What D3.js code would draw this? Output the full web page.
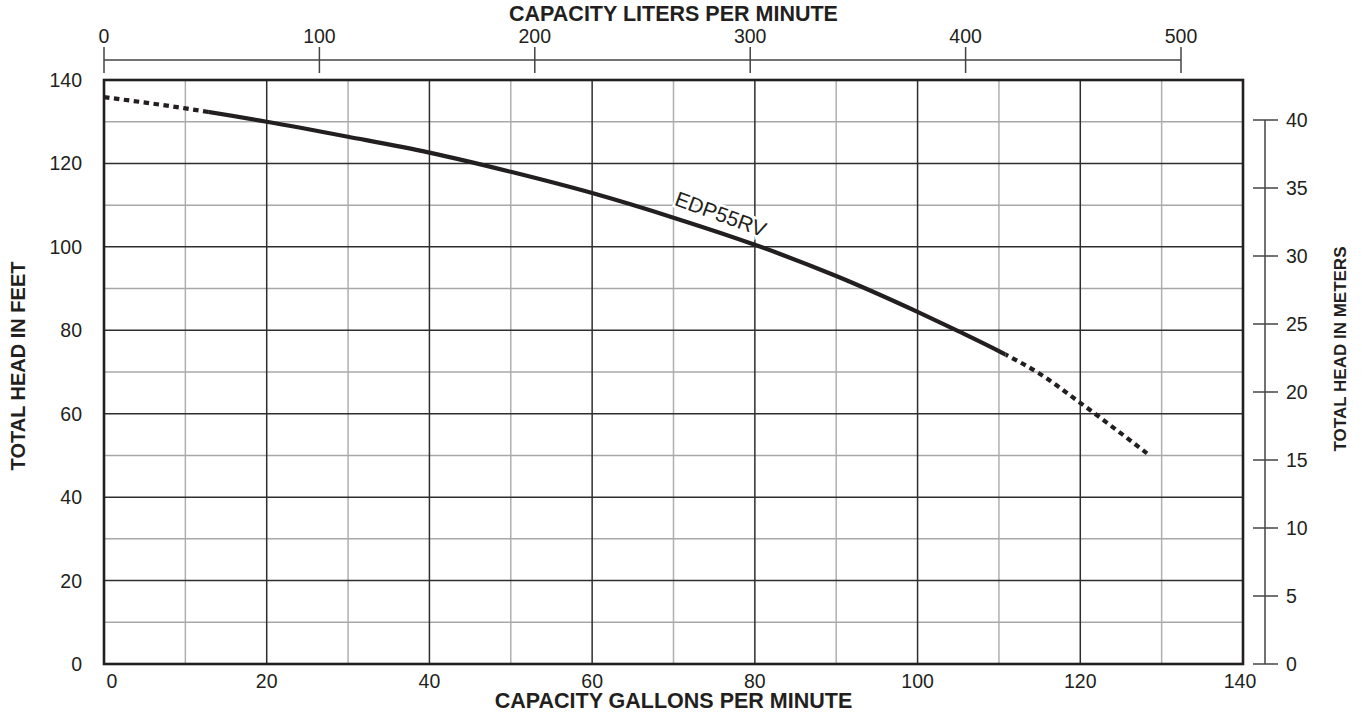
<!DOCTYPE html>
<html><head><meta charset="utf-8">
<script src="https://cdn.jsdelivr.net/npm/d3@7"></script>
<style>
html,body{margin:0;padding:0;background:#fff;}
svg{display:block;font-family:"Liberation Sans",Arial,Helvetica,sans-serif;}
</style></head>
<body>
<svg id="c" width="1362" height="715"></svg>
<script>
// ---- data ----
const gallonTicks = [0, 20, 40, 60, 80, 100, 120, 140];
const gallonMinor = [10, 30, 50, 70, 90, 110, 130];
const feetTicks = [0, 20, 40, 60, 80, 100, 120, 140];
const feetMinor = [10, 30, 50, 70, 90, 110, 130];
const literTicks = [0, 100, 200, 300, 400, 500];
const meterTicks = [0, 5, 10, 15, 20, 25, 30, 35, 40];
const curveGallons = [0, 10, 20, 30, 40, 50, 60, 70, 80, 90, 100, 105, 110, 115, 120, 128.2];
const curveHead    = [135.9, 133.2, 130.0, 126.4, 122.6, 118.0, 112.9, 107.0, 100.5, 93.0, 84.4, 79.8, 75.0, 69.6, 62.6, 50.5];
const solidRange = [12.8, 110.8];
const seriesName = "EDP55RV";
const labelAt = [75.5, 106.2];
const titles = {
  bottom: "CAPACITY GALLONS PER MINUTE",
  top: "CAPACITY LITERS PER MINUTE",
  left: "TOTAL HEAD IN FEET",
  right: "TOTAL HEAD IN METERS"
};

// ---- layout ----
const L = 104, R = 1243, T = 80, B = 664;
const svg = d3.select("#c");
const x = d3.scaleLinear().domain([0, 140]).range([L, R]);
const y = d3.scaleLinear().domain([0, 140]).range([B, T]);
const xl = d3.scaleLinear().domain([0, 500]).range([L, 1181]);
const ym = d3.scaleLinear().domain([0, 40]).range([B, 120]);
const textCol = "#231f20";

// minor grid
const g = svg.append("g");
g.selectAll(".vx").data(gallonMinor).join("line")
  .attr("x1", d => x(d)).attr("x2", d => x(d)).attr("y1", T).attr("y2", B)
  .attr("stroke", "#b0b0b0").attr("stroke-width", 1.5);
g.selectAll(".hy").data(feetMinor).join("line")
  .attr("y1", d => y(d)).attr("y2", d => y(d)).attr("x1", L).attr("x2", R)
  .attr("stroke", "#a8a8a8").attr("stroke-width", 1.5);
// major grid
g.selectAll(".VX").data(gallonTicks.slice(1, -1)).join("line")
  .attr("x1", d => x(d)).attr("x2", d => x(d)).attr("y1", T).attr("y2", B)
  .attr("stroke", "#2e2e2e").attr("stroke-width", 1.5);
g.selectAll(".HY").data(feetTicks.slice(1, -1)).join("line")
  .attr("y1", d => y(d)).attr("y2", d => y(d)).attr("x1", L).attr("x2", R)
  .attr("stroke", "#2e2e2e").attr("stroke-width", 1.5);

// frame
svg.append("rect").attr("x", L).attr("y", T).attr("width", R - L).attr("height", B - T)
  .attr("fill", "none").attr("stroke", "#231f20").attr("stroke-width", 2.6);

// bottom axis labels
svg.append("g").selectAll("text").data(gallonTicks).join("text")
  .attr("x", (d, i) => x(d) + (i === 0 ? 8 : (i === gallonTicks.length - 1 ? -3 : 0)))
  .attr("y", 688).attr("text-anchor", "middle").attr("font-size", 19.5).attr("fill", textCol)
  .text(d => d);
// left axis labels
svg.append("g").selectAll("text").data(feetTicks).join("text")
  .attr("x", 82).attr("y", d => y(d)).attr("dy", "0.36em")
  .attr("text-anchor", "end").attr("font-size", 19.5).attr("fill", textCol)
  .text(d => d);

// top liters axis
const topAx = svg.append("g");
topAx.append("line").attr("x1", xl(0)).attr("x2", xl(500)).attr("y1", 60).attr("y2", 60)
  .attr("stroke", "#444").attr("stroke-width", 1.5);
topAx.selectAll(".t").data(literTicks).join("line")
  .attr("x1", d => xl(d)).attr("x2", d => xl(d)).attr("y1", 47).attr("y2", 73)
  .attr("stroke", "#444").attr("stroke-width", 1.5);
topAx.selectAll("text").data(literTicks).join("text")
  .attr("x", d => xl(d)).attr("y", 43).attr("text-anchor", "middle")
  .attr("font-size", 19.5).attr("fill", textCol).text(d => d);

// right meters axis
const rtAx = svg.append("g");
rtAx.append("line").attr("x1", 1265).attr("x2", 1265).attr("y1", ym(40)).attr("y2", ym(0))
  .attr("stroke", "#444").attr("stroke-width", 1.5);
rtAx.selectAll(".t").data(meterTicks).join("line")
  .attr("x1", 1253).attr("x2", 1278).attr("y1", d => ym(d)).attr("y2", d => ym(d))
  .attr("stroke", "#444").attr("stroke-width", 1.5);
rtAx.selectAll("text").data(meterTicks).join("text")
  .attr("x", 1286).attr("y", d => ym(d)).attr("dy", "0.36em")
  .attr("font-size", 19.5).attr("fill", textCol).text(d => d);

// titles
svg.append("text").attr("x", (L + R) / 2).attr("y", 708).attr("text-anchor", "middle")
  .attr("font-size", 21.5).attr("font-weight", "bold").attr("fill", textCol).text(titles.bottom);
svg.append("text").attr("x", (L + R) / 2).attr("y", 21).attr("text-anchor", "middle")
  .attr("font-size", 21.5).attr("font-weight", "bold").attr("fill", textCol).text(titles.top);
svg.append("text").attr("transform", "translate(24.5,366) rotate(-90)").attr("text-anchor", "middle")
  .attr("font-size", 20).attr("font-weight", "bold").attr("fill", textCol).text(titles.left);
svg.append("text").attr("transform", "translate(1346,349) rotate(-90)").attr("text-anchor", "middle")
  .attr("font-size", 17).attr("font-weight", "bold").attr("fill", textCol).text(titles.right);

// curve
const pts = curveGallons.map((d, i) => [d, curveHead[i]]);
const line = d3.line().x(d => x(d[0])).y(d => y(d[1])).curve(d3.curveMonotoneX);
const defs = svg.append("defs");
defs.append("clipPath").attr("id", "solid").append("rect")
  .attr("x", x(solidRange[0])).attr("y", 0).attr("width", x(solidRange[1]) - x(solidRange[0])).attr("height", 715);
const dc = defs.append("clipPath").attr("id", "dot");
dc.append("rect").attr("x", 0).attr("y", 0).attr("width", x(solidRange[0])).attr("height", 715);
dc.append("rect").attr("x", x(solidRange[1])).attr("y", 0).attr("width", 1362 - x(solidRange[1])).attr("height", 715);

svg.append("path").attr("d", line(pts)).attr("fill", "none").attr("stroke", "#231f20")
  .attr("stroke-width", 4.2).attr("clip-path", "url(#solid)");
svg.append("path").attr("d", line(pts)).attr("fill", "none").attr("stroke", "#231f20")
  .attr("stroke-width", 4.2).attr("stroke-dasharray", "5.5,4.5").attr("clip-path", "url(#dot)");

// series label
svg.append("text")
  .attr("transform", `translate(${x(labelAt[0])},${y(labelAt[1])}) rotate(20)`)
  .attr("text-anchor", "middle").attr("font-size", 21).attr("fill", textCol)
  .attr("stroke", "#fff").attr("stroke-width", 5).attr("paint-order", "stroke")
  .text(seriesName);
</script>
</body></html>
